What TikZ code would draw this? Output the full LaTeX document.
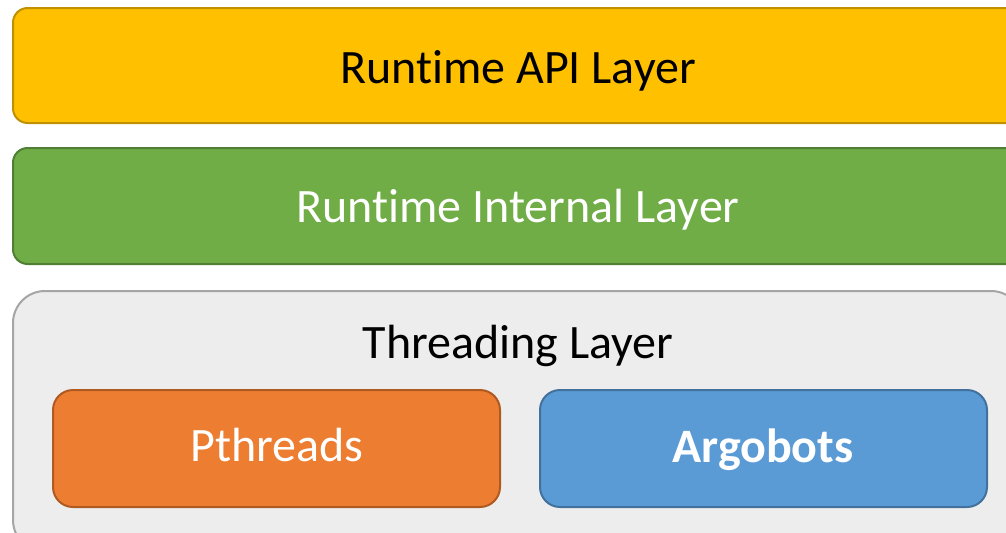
\documentclass[tikz,border=0pt]{standalone}
\usepackage{fontspec}
\setmainfont{Carlito}
\newcommand{\Rt}{Runt\kern0pt ime}
\definecolor{ylw}{HTML}{FFC000}
\definecolor{ylwb}{HTML}{BF9000}
\definecolor{grn}{HTML}{70AD47}
\definecolor{grnb}{HTML}{507E32}
\definecolor{gry}{HTML}{EDEDED}
\definecolor{gryb}{HTML}{A5A5A5}
\definecolor{org}{HTML}{ED7D31}
\definecolor{orgb}{HTML}{AE5A21}
\definecolor{blu}{HTML}{5B9BD5}
\definecolor{blub}{HTML}{41719C}
\begin{document}
\begin{tikzpicture}[x=0.75pt,y=-0.75pt,
  layer/.style={line width=1.5pt},
  lbl/.style={font=\fontsize{36}{43}\selectfont, inner sep=0pt, anchor=base}]
\useasboundingbox (0,0) rectangle (1006,532);
\clip (0,0) rectangle (1006,532);
\draw[layer, fill=ylw, draw=ylwb, rounded corners=11pt] (13,8) rectangle (1023,123);
\draw[layer, fill=grn, draw=grnb, rounded corners=11pt] (13,148) rectangle (1023,264);
\draw[layer, fill=gry, draw=gryb, rounded corners=24pt] (13,291) rectangle (1023,552);
\draw[layer, fill=org, draw=orgb, rounded corners=15pt] (53,390) rectangle (500,507);
\draw[layer, fill=blu, draw=blub, rounded corners=15pt] (540,390) rectangle (987,507);
\node[lbl, text=black] (api) at (518,83) {\Rt{} API Layer};
\node[lbl, text=white] (internal) at (518,222) {\Rt{} Internal Layer};
\node[lbl, text=black] (thr) at (518,358) {Threading Layer};
\node[lbl, text=white] (pth) at (277,461) {Pthreads};
\node[lbl, text=white, font=\fontsize{36}{43}\selectfont\bfseries] (argo) at (763,462) {Argobots};
\end{tikzpicture}
\end{document}
